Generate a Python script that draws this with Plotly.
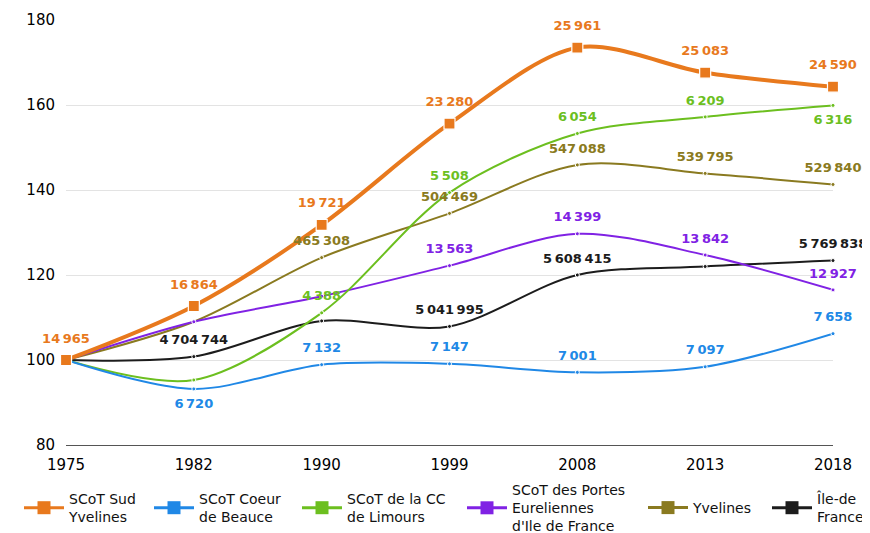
import plotly.graph_objects as go

years = ["1975", "1982", "1990", "1999", "2008", "2013", "2018"]

# index base 100 en 1975
sud_yvelines = [100, 112.7, 131.8, 155.6, 173.5, 167.6, 164.3]
coeur_beauce = [100, 93.2, 98.9, 99.1, 97.1, 98.4, 106.2]
limours = [100, 95.3, 111.1, 139.4, 153.3, 157.2, 159.9]
portes_eure = [100, 109.0, 115.0, 122.2, 129.7, 124.7, 116.5]
yvelines = [100, 109.0, 124.1, 134.5, 145.9, 143.9, 141.3]
idf = [100, 100.8, 109.2, 107.9, 120.0, 122.0, 123.4]

# populations affichées
lab_sud = ["14 965", "16 864", "19 721", "23 280", "25 961", "25 083", "24 590"]
lab_beauce = ["", "6 720", "7 132", "7 147", "7 001", "7 097", "7 658"]
lab_limours = ["", "", "4 388", "5 508", "6 054", "6 209", "6 316"]
lab_portes = ["", "", "", "13 563", "14 399", "13 842", "12 927"]
lab_yvelines = ["", "", "465 308", "504 469", "547 088", "539 795", "529 840"]
lab_idf = ["", "4 704 744", "", "5 041 995", "5 608 415", "", "5 769 838"]

names = ["SCoT Sud<br>Yvelines", "SCoT Coeur<br>de Beauce", "SCoT de la CC<br>de Limours",
         "SCoT des Portes<br>Eureliennes<br>d'Ile de France", "Yvelines", "Île-de<br>France"]
colors = ["#E8791D", "#2088E6", "#6CBF1F", "#8022E4", "#8A7A20", "#1C1C1C"]

series = [sud_yvelines, coeur_beauce, limours, portes_eure, yvelines, idf]
labels = [lab_sud, lab_beauce, lab_limours, lab_portes, lab_yvelines, lab_idf]
# position des étiquettes (au-dessus sauf exceptions)
positions = [
    ["top center"] * 7,
    ["top center", "bottom center"] + ["top center"] * 5,
    ["top center"] * 6 + ["bottom center"],
    ["top center"] * 7,
    ["top center"] * 7,
    ["top center"] * 7,
]

FONT = "DejaVu Sans"
W, H = 862, 525  # la page ajoute 8px de marge au body
fig = go.Figure()

# draw order: thin lines first, orange on top
order = [5, 4, 3, 2, 1, 0]
for i in order:
    if i == 0:
        line = dict(color=colors[i], width=4, shape="spline", smoothing=0.9)
        marker = dict(symbol="square", size=11, color=colors[i], line=dict(color="white", width=1.2))
    else:
        line = dict(color=colors[i], width=2, shape="spline", smoothing=0.9)
        marker = dict(symbol="circle", size=4, color=colors[i], line=dict(color="white", width=1))
    fig.add_trace(go.Scatter(
        x=years, y=series[i], mode="lines+markers",
        line=line, marker=marker, showlegend=False, cliponaxis=False, hoverinfo="skip",
    ))

# étiquettes de données (marqueurs invisibles pour régler l'écart)
for i in order:
    nbsp = [t.replace(" ", "\u202f") for t in labels[i]]
    fig.add_trace(go.Scatter(
        x=years, y=series[i], mode="markers+text",
        text=nbsp, textposition=positions[i],
        textfont=dict(family=FONT, size=13, color=colors[i], weight="bold"),
        marker=dict(size=21 if i == 0 else 13, color="rgba(0,0,0,0)"),
        showlegend=False, cliponaxis=False, hoverinfo="skip",
    ))

# légende : une légende par entrée pour centrer verticalement les symboles
legend_x = [11, 141, 289, 454, 635, 759]
legend_ids = ["legend", "legend2", "legend3", "legend4", "legend5", "legend6"]
for i in range(6):
    fig.add_trace(go.Scatter(
        x=[None], y=[None], mode="lines+markers", name=names[i],
        legend=legend_ids[i],
        line=dict(color=colors[i], width=3),
        marker=dict(symbol="square", size=13, color=colors[i]),
    ))

legend_layout = {}
for i, lid in enumerate(legend_ids):
    legend_layout[lid] = dict(
        orientation="h", xref="container", yref="container",
        x=legend_x[i] / W, xanchor="left", y=1 - 500 / H, yanchor="middle",
        font=dict(family=FONT, size=14, color="#111111"),
        itemwidth=40, bgcolor="rgba(0,0,0,0)",
    )

fig.update_layout(
    width=W, height=H,
    margin=dict(l=58, r=37, t=12, b=88, autoexpand=False),
    plot_bgcolor="white", paper_bgcolor="white",
    font=dict(family=FONT, color="#111111"),
    xaxis=dict(type="category", range=[0, 6], showgrid=False, showline=True,
               linecolor="#555555", linewidth=1, ticks="", ticklabelstandoff=6,
               automargin=False,
               tickfont=dict(family=FONT, size=15, color="#000000")),
    yaxis=dict(range=[80, 180], dtick=20, showgrid=True, gridcolor="#E3E3E3",
               zeroline=False, showline=False, ticks="", ticklabelstandoff=10,
               automargin=False,
               tickfont=dict(family=FONT, size=15, color="#000000")),
    **legend_layout,
)

fig.write_html("out.html")
